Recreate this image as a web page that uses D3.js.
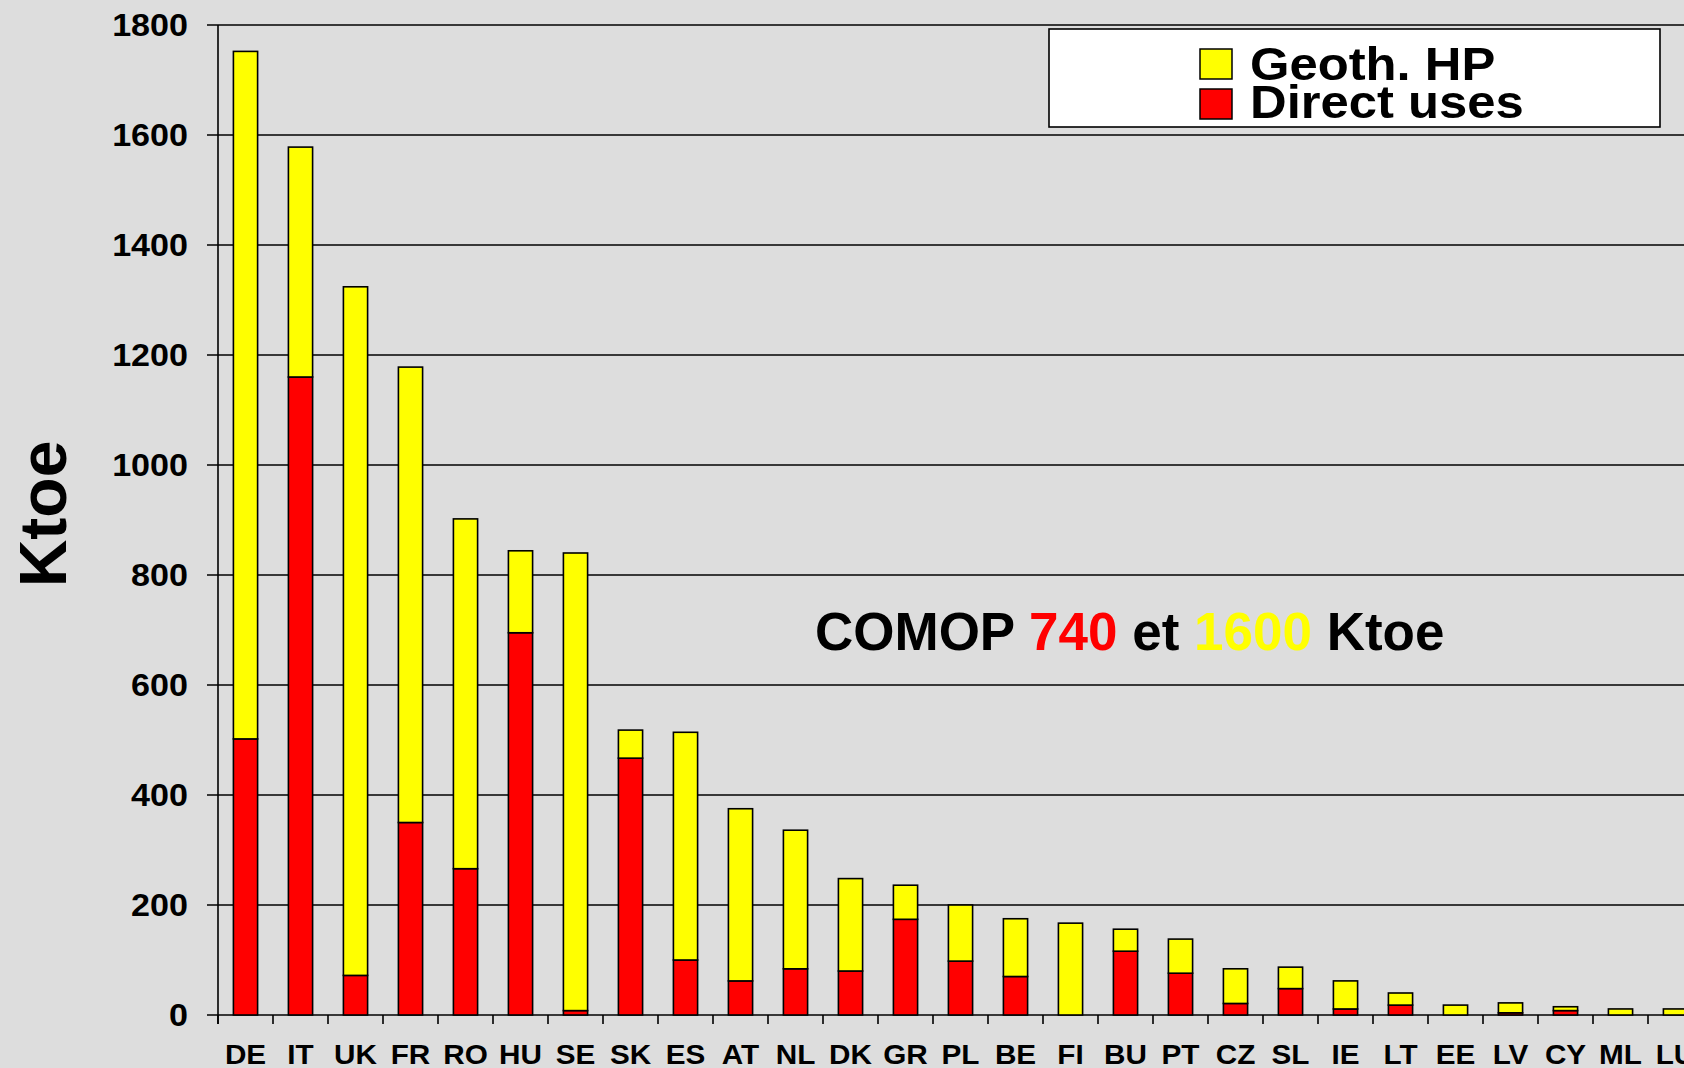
<!DOCTYPE html>
<html>
<head>
<meta charset="utf-8">
<script src="https://cdn.jsdelivr.net/npm/d3@7"></script>
<style>
    body { margin: 0; background: #dddddd; }
    svg { display: block; font-family: 'Liberation Sans', Arial, Helvetica, sans-serif; font-weight: bold; }
</style>
</head>
<body>
<div id="chart"></div>
<script>
// Data (Ktoe)
const countries = ["DE", "IT", "UK", "FR", "RO", "HU", "SE", "SK", "ES", "AT", "NL", "DK", "GR", "PL",
    "BE", "FI", "BU", "PT", "CZ", "SL", "IE", "LT", "EE", "LV", "CY", "ML", "LU"];
const directUses = [502, 1160, 72, 350, 266, 695, 8, 467, 100, 62, 84, 80, 174, 98,
    70, 0, 116, 76, 21, 48, 11, 18, 0, 4, 8, 0, 0];
const geothHP = [1250, 418, 1252, 828, 636, 149, 832, 51, 414, 313, 252, 168, 62, 102,
    105, 167, 40, 62, 63, 39, 51, 22, 18, 18, 7, 11, 11];
const yTicks = [0, 200, 400, 600, 800, 1000, 1200, 1400, 1600, 1800];
const seriesNames = ["Geoth. HP", "Direct uses"];

const W = 1684, H = 1068;
const X0 = 218, Y0 = 1015, YTOP = 25;
const STEP = 55;
const STRETCH = 1.1; // the original text is a bit wider than Arial

let svg = d3.select("#chart").append("svg")
    .attr("width", W)
    .attr("height", H);

svg.append("rect").attr("width", W).attr("height", H).attr("fill", "#dddddd");

let x = d3.scaleBand()
    .domain(countries)
    .range([X0, X0 + STEP * countries.length])
    .paddingInner(0.56)
    .paddingOuter(0.28);

let y = d3.scaleLinear()
    .domain([0, 1800])
    .range([Y0, YTOP]);

// gridlines
svg.append("g")
    .selectAll("line")
    .data(yTicks)
    .enter()
    .append("line")
    .attr("x1", X0 - 11)
    .attr("x2", W)
    .attr("y1", d => y(d))
    .attr("y2", d => y(d))
    .attr("stroke", "#000")
    .attr("stroke-width", 1.6);

// y axis line
svg.append("line")
    .attr("x1", X0).attr("x2", X0)
    .attr("y1", y(1800)).attr("y2", Y0 + 9)
    .attr("stroke", "#000").attr("stroke-width", 1.6);

// category boundary ticks
svg.append("g")
    .selectAll("line")
    .data(countries)
    .enter()
    .append("line")
    .attr("x1", d => x(d) - x.step() * x.paddingOuter())
    .attr("x2", d => x(d) - x.step() * x.paddingOuter())
    .attr("y1", Y0)
    .attr("y2", Y0 + 9)
    .attr("stroke", "#000")
    .attr("stroke-width", 1.6);

// y tick labels
svg.append("g")
    .selectAll("text")
    .data(yTicks)
    .enter()
    .append("text")
    .attr("transform", d => `translate(188,${y(d)}) scale(${STRETCH},1)`)
    .attr("dy", "0.36em")
    .attr("text-anchor", "end")
    .attr("font-size", 31)
    .text(d => d);

// stacked bars
const rows = countries.map((c, i) => ({ country: c, direct: directUses[i], hp: geothHP[i] }));
const stacked = d3.stack().keys(["direct", "hp"])(rows);
const colors = { direct: "#ff0000", hp: "#ffff00" };

svg.append("g")
    .selectAll("g")
    .data(stacked)
    .enter()
    .append("g")
    .attr("fill", d => colors[d.key])
    .selectAll("rect")
    .data(d => d.filter(s => s[1] - s[0] > 0))
    .enter()
    .append("rect")
    .attr("x", d => x(d.data.country))
    .attr("width", x.bandwidth())
    .attr("y", d => y(d[1]))
    .attr("height", d => y(d[0]) - y(d[1]))
    .attr("stroke", "#000")
    .attr("stroke-width", 1.6);

// x labels
svg.append("g")
    .selectAll("text")
    .data(countries)
    .enter()
    .append("text")
    .attr("transform", d => `translate(${x(d) + x.bandwidth() / 2},1064) scale(${STRETCH},1)`)
    .attr("text-anchor", "middle")
    .attr("font-size", 27)
    .text(d => d);

// y axis title
svg.append("text")
    .attr("transform", "translate(66,514) rotate(-90)")
    .attr("text-anchor", "middle")
    .attr("font-size", 66)
    .text("Ktoe");

// legend
let legend = svg.append("g");
legend.append("rect")
    .attr("x", 1049).attr("y", 29)
    .attr("width", 611).attr("height", 98)
    .attr("fill", "#fff").attr("stroke", "#000").attr("stroke-width", 1.6);

legend.selectAll(".swatch")
    .data(seriesNames)
    .enter()
    .append("rect")
    .attr("class", "swatch")
    .attr("x", 1200)
    .attr("y", (d, i) => 49 + i * 40)
    .attr("width", 32)
    .attr("height", 30)
    .attr("fill", (d, i) => i === 0 ? colors.hp : colors.direct)
    .attr("stroke", "#000")
    .attr("stroke-width", 1.5);

legend.selectAll(".ltext")
    .data(seriesNames)
    .enter()
    .append("text")
    .attr("class", "ltext")
    .attr("transform", (d, i) => `translate(1250,${80 + i * 38}) scale(1.08,1)`)
    .attr("font-size", 47)
    .text(d => d);

// annotation
let note = svg.append("text")
    .attr("x", 815)
    .attr("y", 650)
    .attr("font-size", 53);
note.append("tspan").attr("fill", "#000").text("COMOP ");
note.append("tspan").attr("fill", "#ff0000").text("740");
note.append("tspan").attr("fill", "#000").text(" et ");
note.append("tspan").attr("fill", "#ffff00").text("1600");
note.append("tspan").attr("fill", "#000").text(" Ktoe");
</script>
</body>
</html>
